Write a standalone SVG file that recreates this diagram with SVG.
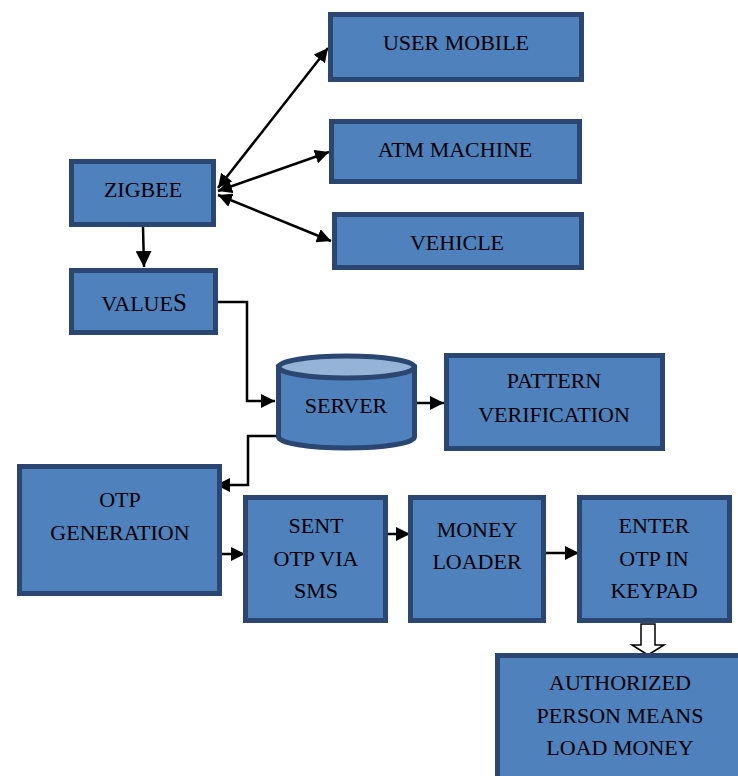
<svg xmlns="http://www.w3.org/2000/svg" width="738" height="776" viewBox="0 0 738 776">
<defs>
<style>
.box{fill:#4f81bd;stroke:#2b4670;stroke-width:5}
.t{font-family:"Liberation Serif","Times New Roman",serif;font-size:22px;fill:#000;text-anchor:middle}
.c{fill:none;stroke:#000;stroke-width:2.5}
</style>
<marker id="ah" viewBox="0 0 12 12" refX="12" refY="6" markerWidth="14" markerHeight="14" markerUnits="userSpaceOnUse" orient="auto-start-reverse">
<path d="M0,0 L12,6 L0,12 z" fill="#000"/>
</marker>
<marker id="ahb" viewBox="0 0 14 14" refX="14" refY="7" markerWidth="16" markerHeight="16" markerUnits="userSpaceOnUse" orient="auto">
<path d="M0,0 L14,7 L0,14 z" fill="#000"/>
</marker>
</defs>
<rect width="738" height="776" fill="#fff"/>
<g id="connectors">
<line class="c" x1="218" y1="188" x2="328" y2="48" marker-start="url(#ah)" marker-end="url(#ah)"/>
<line class="c" x1="218" y1="191" x2="329" y2="152" marker-start="url(#ah)" marker-end="url(#ah)"/>
<line class="c" x1="218" y1="195" x2="331" y2="241" marker-start="url(#ah)" marker-end="url(#ah)"/>
<line class="c" x1="143" y1="227" x2="144" y2="267" marker-end="url(#ahb)"/>
<polyline class="c" points="218,302 247,302 247,401 275,401" marker-end="url(#ah)"/>
<line class="c" x1="417" y1="403" x2="444" y2="403" marker-end="url(#ah)"/>
<polyline class="c" points="281,436 248,436 248,485 216,485" marker-end="url(#ah)"/>
<line class="c" x1="221" y1="554" x2="245" y2="554" marker-end="url(#ah)"/>
<line class="c" x1="386" y1="534" x2="410" y2="534" marker-end="url(#ah)"/>
<line class="c" x1="545" y1="553" x2="579" y2="553" marker-end="url(#ah)"/>
<path d="M641,624 L655,624 L655,645 L664,645 L648,655 L632,645 L641,645 Z" fill="#fff" stroke="#000" stroke-width="1.5"/>
</g>
<g id="user-mobile">
<rect class="box" x="330.5" y="14.5" width="251" height="65"/>
<text class="t" x="456" y="50">USER MOBILE</text>
</g>
<g id="atm-machine">
<rect class="box" x="331.5" y="121.5" width="248" height="60"/>
<text class="t" x="455" y="157">ATM MACHINE</text>
</g>
<g id="vehicle">
<rect class="box" x="334.5" y="214.5" width="247" height="53"/>
<text class="t" x="457" y="250">VEHICLE</text>
</g>
<g id="zigbee">
<rect class="box" x="71.5" y="161.5" width="142" height="63"/>
<text class="t" x="143" y="197">ZIGBEE</text>
</g>
<g id="values">
<rect class="box" x="71.5" y="270.5" width="144" height="62"/>
<text class="t" x="144" y="311">VALUE<tspan font-size="25">S</tspan></text>
</g>
<g id="server">
<path d="M278.5,367 L278.5,437 A68,11 0 0 0 414.5,437 L414.5,367 Z" fill="#4f81bd" stroke="#2b4670" stroke-width="5"/>
<ellipse cx="346.5" cy="367" rx="68" ry="11" fill="#95b3d7" stroke="#2b4670" stroke-width="5"/>
<text class="t" x="346" y="413">SERVER</text>
</g>
<g id="pattern-verification">
<rect class="box" x="446.5" y="355.5" width="216" height="93"/>
<text class="t" x="554" y="388">PATTERN</text>
<text class="t" x="554" y="422">VERIFICATION</text>
</g>
<g id="otp-generation">
<rect class="box" x="19.5" y="466.5" width="200" height="127"/>
<text class="t" x="120" y="507">OTP</text>
<text class="t" x="120" y="540">GENERATION</text>
</g>
<g id="sent-otp">
<rect class="box" x="245.5" y="497.5" width="140" height="123"/>
<text class="t" x="316" y="533">SENT</text>
<text class="t" x="316" y="566">OTP VIA</text>
<text class="t" x="316" y="598">SMS</text>
</g>
<g id="money-loader">
<rect class="box" x="410.5" y="497.5" width="133" height="123"/>
<text class="t" x="477" y="537">MONEY</text>
<text class="t" x="477" y="569">LOADER</text>
</g>
<g id="enter-otp">
<rect class="box" x="579.5" y="497.5" width="150" height="123"/>
<text class="t" x="654" y="533">ENTER</text>
<text class="t" x="654" y="566">OTP IN</text>
<text class="t" x="654" y="598">KEYPAD</text>
</g>
<g id="authorized">
<rect class="box" x="497.5" y="655.5" width="245" height="125"/>
<text class="t" x="620" y="690">AUTHORIZED</text>
<text class="t" x="620" y="723">PERSON MEANS</text>
<text class="t" x="620" y="755">LOAD MONEY</text>
</g>
</svg>
